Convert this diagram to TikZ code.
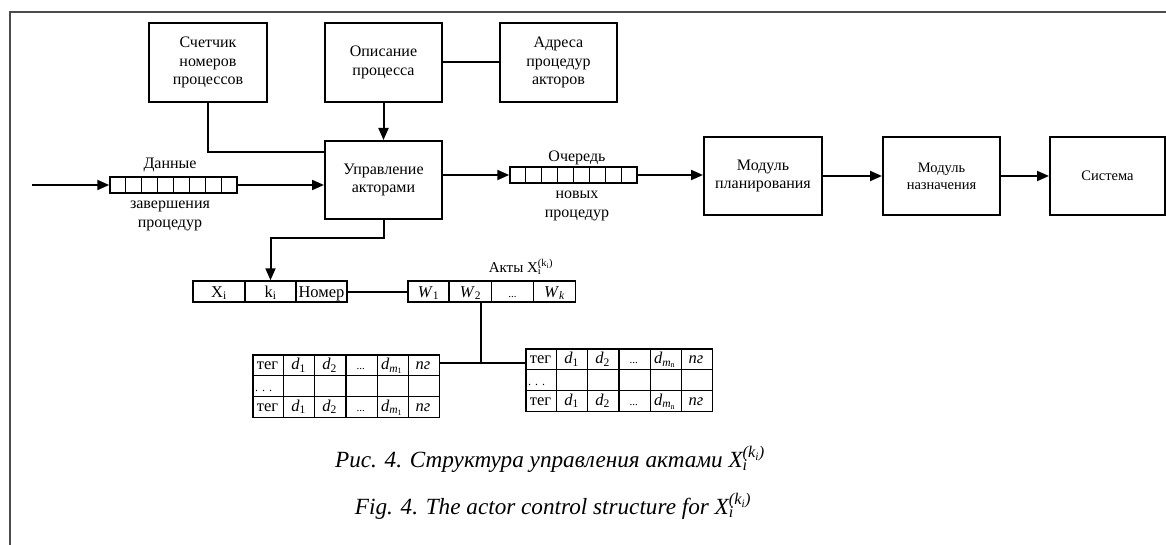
\documentclass[tikz,border=0pt]{standalone}
\usepackage{fontspec}
\setmainfont{Liberation Serif}
\usetikzlibrary{arrows.meta,calc}

\newcommand\xik{X\rlap{\textsubscript{i}}\textsuperscript{(k\textsubscript{i})}}

\begin{document}
\begin{tikzpicture}[x=1pt,y=-1pt,
  blk/.style={draw,line width=2pt,minimum width=117pt,minimum height=78pt,
    inner sep=0pt,align=center,font=\fontsize{16}{18.5}\selectfont},
  smallblk/.style={blk,font=\fontsize{14.5}{17}\selectfont},
  conn/.style={line width=2pt},
  arr/.style={conn,-{Triangle[length=12pt,width=10pt]}},
  queue/.style={draw,line width=1.5pt,minimum width=127pt,minimum height=16pt,inner sep=0pt},
  tline/.style={line width=1.5pt},
  cell/.style={draw,line width=1.5pt,minimum height=21pt,inner sep=0pt},
  ctext/.style={inner sep=0pt,anchor=base,font=\fontsize{16.5}{18}\selectfont},
  lbl/.style={inner sep=0pt,align=center,font=\fontsize{16}{19}\selectfont},
  captxt/.style={inner sep=0pt,anchor=base,font=\fontsize{23.2}{28}\selectfont\itshape}
]
\useasboundingbox (0,0) rectangle (1166,545);

% page frame
\draw[line width=1.5pt,black!70] (10,545) -- (10,12) -- (1166,12);

% upper blocks
\node[blk,minimum width=118pt,minimum height=79pt] (cnt) at (208,62.5) {Счетчик\\номеров\\процессов};
\node[blk,minimum height=79pt] (desc) at (383.5,62.5) {Описание\\процесса};
\node[blk,minimum height=79pt] (addr) at (558.5,62.5) {Адреса\\процедур\\акторов};
\node[blk] (ctrl) at (383.5,180) {Управление\\акторами};

% main chain
\node[blk,minimum width=118pt] (plan) at (763,176) {Модуль\\планирования};
\node[smallblk] (assign) at (941.5,176) {Модуль\\назначения};
\node[smallblk,minimum width=115pt] (sys) at (1107.5,176) {Система};

% queues
\node[queue] (q1) at (173.5,185) {};
\node[queue] (q2) at (573.5,175) {};
\foreach \q in {q1,q2}
  \foreach \i in {1,...,7}
    \draw[tline] ($(\q.north west)!\i/8!(\q.north east)$) -- ($(\q.south west)!\i/8!(\q.south east)$);

\node[lbl] (q1top) at (170,165) {Данные};
\node[lbl] (q1bot) at (170,216) {завершения\\процедур};
\node[lbl] (q2top) at (577,158) {Очередь};
\node[lbl] (q2bot) at (577,206) {новых\\процедур};

% connectors of the upper part
\coordinate (in) at (32,185);
\draw[arr] (in) -- (q1.west);
\draw[arr] (q1.east) -- (q1.east -| ctrl.west);
\draw[arr] (desc.south) -- (ctrl.north);
\draw[conn] (cnt.south) |- ($(ctrl.north west)!0.15!(ctrl.south west)$);
\draw[conn] (desc.east) -- (addr.west);
\draw[arr] (ctrl.east |- q2.west) -- (q2.west);
\draw[arr] (q2.east) -- (q2.east -| plan.west);
\draw[arr] (plan.east) -- (assign.west);
\draw[arr] (assign.east) -- (sys.west);

% process record
\node[cell,minimum width=52pt] (xi) at (219,291.5) {};
\node[cell,minimum width=51pt] (ki) at (270.5,291.5) {};
\node[cell,minimum width=51pt] (num) at (321.5,291.5) {};
\node[ctext] (xi-t) at (219,297) {X\textsubscript{i}};
\node[ctext] (ki-t) at (270.5,297) {k\textsubscript{i}};
\node[ctext] (num-t) at (321.5,297) {Номер};
\draw[arr] (ctrl.south) -- ++(0,18) -| (ki.north);

% acts vector
\node[cell,minimum width=41pt] (w1) at (428.5,291.5) {};
\node[cell,minimum width=42pt] (w2) at (470.5,291.5) {};
\node[cell,minimum width=42pt] (w3) at (512.5,291.5) {};
\node[cell,minimum width=42pt] (wk) at (554.5,291.5) {};
\node[ctext] (w1-t) at (428.5,297) {\textit{W}\textsubscript{1}};
\node[ctext] (w2-t) at (470.5,297) {\textit{W}\textsubscript{2}};
\node[ctext,font=\fontsize{11}{12}\selectfont] (w3-t) at (512.5,297) {...};
\node[ctext] (wk-t) at (554.5,297) {\textit{W}\textsubscript{\textit{k}}};
\node[lbl,font=\fontsize{15}{18}\selectfont] (acts) at (521,267) {Акты \xik};
\draw[conn] (num.east) -- (w1.west);

% data tables of the acts
\foreach \tname/\x/\y/\m in {lt/252/354/1, rt/525/348/n} {
  \node[draw,line width=1.5pt,minimum width=186.5pt,minimum height=62.5pt,
        inner sep=0pt,anchor=north west] (\tname) at (\x,\y) {};
  \foreach \k in {1,...,5}
    \draw[tline] ($(\tname.north west)!\k/6!(\tname.north east)$) -- ($(\tname.south west)!\k/6!(\tname.south east)$);
  \foreach \k in {1,2}
    \draw[tline] ($(\tname.north west)!\k/3!(\tname.south west)$) -- ($(\tname.north east)!\k/3!(\tname.south east)$);
  \foreach \r in {1,3} {
    \foreach \c/\t in {1/тег, 2/\textit{d}\textsubscript{1}, 3/\textit{d}\textsubscript{2},
                       4/{\fontsize{11}{12}\selectfont ...},
                       5/\textit{d}\textsubscript{\textit{m}\textsubscript{\m}},
                       6/\textit{пг}}
      \node[ctext] (\tname-\r-\c) at ($(\tname.north west)+({(\c-0.5)*186.5/6},{(\r-0.5)*62.5/3+5})$) {\t};
  }
  \node[ctext,font=\fontsize{12}{12}\selectfont,anchor=base west] (\tname-dots)
    at ($(\tname.north west)+(3,37)$) {.\,\,.\,\,.};
}

\coordinate (j) at (481,363);
\draw[conn] (j |- w2.south) -- (j);
\draw[conn] (j -| lt.east) -- (j -| rt.west);

% caption
\node[captxt] (cap1) at (550,467) {Рис. 4. Структура управления актами \xik};
\node[captxt] (cap2) at (553,514) {Fig. 4. The actor control structure for \xik};
\end{tikzpicture}
\end{document}
